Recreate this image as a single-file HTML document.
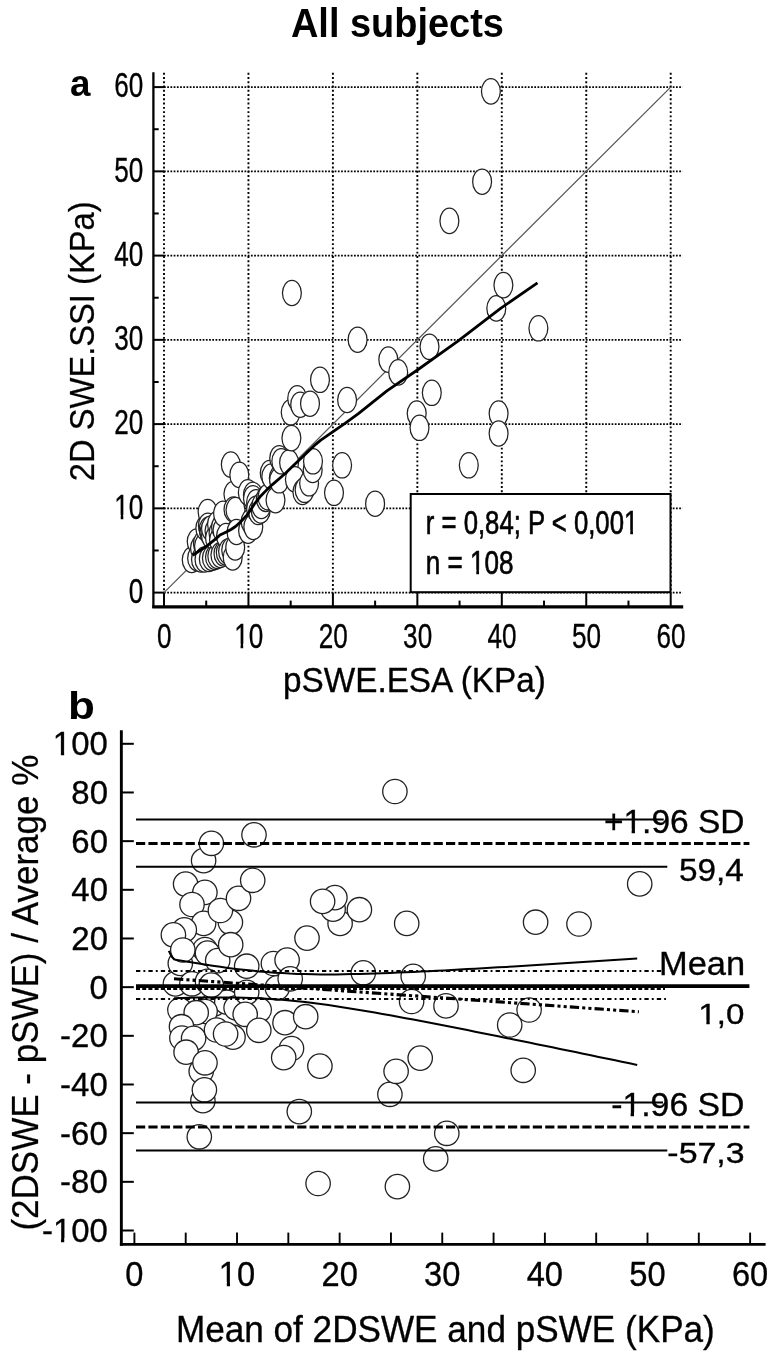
<!DOCTYPE html>
<html><head><meta charset="utf-8"><style>
html,body{margin:0;padding:0;background:#fff;}
svg{display:block;}
</style></head><body>
<svg width="774" height="1358" viewBox="0 0 774 1358">
<rect width="774" height="1358" fill="#fff"/>
<line x1="164.00" y1="592.60" x2="682.5" y2="592.60" stroke="#000" stroke-width="1.9" stroke-dasharray="1.75 1.47"/>
<line x1="164.00" y1="508.35" x2="682.5" y2="508.35" stroke="#000" stroke-width="1.9" stroke-dasharray="1.75 1.47"/>
<line x1="164.00" y1="424.10" x2="682.5" y2="424.10" stroke="#000" stroke-width="1.9" stroke-dasharray="1.75 1.47"/>
<line x1="164.00" y1="339.85" x2="682.5" y2="339.85" stroke="#000" stroke-width="1.9" stroke-dasharray="1.75 1.47"/>
<line x1="164.00" y1="255.60" x2="682.5" y2="255.60" stroke="#000" stroke-width="1.9" stroke-dasharray="1.75 1.47"/>
<line x1="164.00" y1="171.35" x2="682.5" y2="171.35" stroke="#000" stroke-width="1.9" stroke-dasharray="1.75 1.47"/>
<line x1="164.00" y1="87.10" x2="682.5" y2="87.10" stroke="#000" stroke-width="1.9" stroke-dasharray="1.75 1.47"/>
<line x1="164.00" y1="72.8" x2="164.00" y2="592.60" stroke="#000" stroke-width="1.9" stroke-dasharray="1.9 2.36"/>
<line x1="248.45" y1="72.8" x2="248.45" y2="592.60" stroke="#000" stroke-width="1.9" stroke-dasharray="1.9 2.36"/>
<line x1="332.90" y1="72.8" x2="332.90" y2="592.60" stroke="#000" stroke-width="1.9" stroke-dasharray="1.9 2.36"/>
<line x1="417.35" y1="72.8" x2="417.35" y2="592.60" stroke="#000" stroke-width="1.9" stroke-dasharray="1.9 2.36"/>
<line x1="501.80" y1="72.8" x2="501.80" y2="592.60" stroke="#000" stroke-width="1.9" stroke-dasharray="1.9 2.36"/>
<line x1="586.25" y1="72.8" x2="586.25" y2="592.60" stroke="#000" stroke-width="1.9" stroke-dasharray="1.9 2.36"/>
<line x1="670.70" y1="72.8" x2="670.70" y2="592.60" stroke="#000" stroke-width="1.9" stroke-dasharray="1.9 2.36"/>
<line x1="153.4" y1="72.3" x2="153.4" y2="608.1" stroke="#000" stroke-width="2.3"/>
<line x1="152.3" y1="606.8" x2="683.2" y2="606.8" stroke="#000" stroke-width="3.3"/>
<line x1="153.4" y1="592.60" x2="164.0" y2="592.60" stroke="#000" stroke-width="2"/>
<line x1="164.00" y1="606.8" x2="164.00" y2="592.60" stroke="#000" stroke-width="2"/>
<line x1="153.4" y1="550.48" x2="158.7" y2="550.48" stroke="#000" stroke-width="2"/>
<line x1="206.22" y1="606.8" x2="206.22" y2="600.60" stroke="#000" stroke-width="2"/>
<line x1="153.4" y1="508.35" x2="164.0" y2="508.35" stroke="#000" stroke-width="2"/>
<line x1="248.45" y1="606.8" x2="248.45" y2="592.60" stroke="#000" stroke-width="2"/>
<line x1="153.4" y1="466.23" x2="158.7" y2="466.23" stroke="#000" stroke-width="2"/>
<line x1="290.68" y1="606.8" x2="290.68" y2="600.60" stroke="#000" stroke-width="2"/>
<line x1="153.4" y1="424.10" x2="164.0" y2="424.10" stroke="#000" stroke-width="2"/>
<line x1="332.90" y1="606.8" x2="332.90" y2="592.60" stroke="#000" stroke-width="2"/>
<line x1="153.4" y1="381.98" x2="158.7" y2="381.98" stroke="#000" stroke-width="2"/>
<line x1="375.12" y1="606.8" x2="375.12" y2="600.60" stroke="#000" stroke-width="2"/>
<line x1="153.4" y1="339.85" x2="164.0" y2="339.85" stroke="#000" stroke-width="2"/>
<line x1="417.35" y1="606.8" x2="417.35" y2="592.60" stroke="#000" stroke-width="2"/>
<line x1="153.4" y1="297.73" x2="158.7" y2="297.73" stroke="#000" stroke-width="2"/>
<line x1="459.57" y1="606.8" x2="459.57" y2="600.60" stroke="#000" stroke-width="2"/>
<line x1="153.4" y1="255.60" x2="164.0" y2="255.60" stroke="#000" stroke-width="2"/>
<line x1="501.80" y1="606.8" x2="501.80" y2="592.60" stroke="#000" stroke-width="2"/>
<line x1="153.4" y1="213.47" x2="158.7" y2="213.47" stroke="#000" stroke-width="2"/>
<line x1="544.03" y1="606.8" x2="544.03" y2="600.60" stroke="#000" stroke-width="2"/>
<line x1="153.4" y1="171.35" x2="164.0" y2="171.35" stroke="#000" stroke-width="2"/>
<line x1="586.25" y1="606.8" x2="586.25" y2="592.60" stroke="#000" stroke-width="2"/>
<line x1="153.4" y1="129.22" x2="158.7" y2="129.22" stroke="#000" stroke-width="2"/>
<line x1="628.48" y1="606.8" x2="628.48" y2="600.60" stroke="#000" stroke-width="2"/>
<line x1="153.4" y1="87.10" x2="164.0" y2="87.10" stroke="#000" stroke-width="2"/>
<line x1="670.70" y1="606.8" x2="670.70" y2="592.60" stroke="#000" stroke-width="2"/>
<line x1="164.00" y1="592.60" x2="670.70" y2="87.10" stroke="#555" stroke-width="1.25"/>
<ellipse cx="191.7" cy="559.8" rx="9.45" ry="12.7" fill="#fff" stroke="#222" stroke-width="1.25"/>
<ellipse cx="196.7" cy="541.6" rx="9.45" ry="12.7" fill="#fff" stroke="#222" stroke-width="1.25"/>
<ellipse cx="197.1" cy="558.2" rx="9.45" ry="12.7" fill="#fff" stroke="#222" stroke-width="1.25"/>
<ellipse cx="200.0" cy="548.0" rx="9.45" ry="12.7" fill="#fff" stroke="#222" stroke-width="1.25"/>
<ellipse cx="201.0" cy="559.5" rx="9.45" ry="12.7" fill="#fff" stroke="#222" stroke-width="1.25"/>
<ellipse cx="202.9" cy="543.5" rx="9.45" ry="12.7" fill="#fff" stroke="#222" stroke-width="1.25"/>
<ellipse cx="204.0" cy="546.0" rx="9.45" ry="12.7" fill="#fff" stroke="#222" stroke-width="1.25"/>
<ellipse cx="204.5" cy="559.5" rx="9.45" ry="12.7" fill="#fff" stroke="#222" stroke-width="1.25"/>
<ellipse cx="205.3" cy="528.0" rx="9.45" ry="12.7" fill="#fff" stroke="#222" stroke-width="1.25"/>
<ellipse cx="207.6" cy="512.0" rx="9.45" ry="12.7" fill="#fff" stroke="#222" stroke-width="1.25"/>
<ellipse cx="207.9" cy="525.7" rx="9.45" ry="12.7" fill="#fff" stroke="#222" stroke-width="1.25"/>
<ellipse cx="208.7" cy="529.6" rx="9.45" ry="12.7" fill="#fff" stroke="#222" stroke-width="1.25"/>
<ellipse cx="208.8" cy="558.9" rx="9.45" ry="12.7" fill="#fff" stroke="#222" stroke-width="1.25"/>
<ellipse cx="209.5" cy="532.7" rx="9.45" ry="12.7" fill="#fff" stroke="#222" stroke-width="1.25"/>
<ellipse cx="211.0" cy="535.8" rx="9.45" ry="12.7" fill="#fff" stroke="#222" stroke-width="1.25"/>
<ellipse cx="211.0" cy="528.5" rx="9.45" ry="12.7" fill="#fff" stroke="#222" stroke-width="1.25"/>
<ellipse cx="211.9" cy="558.0" rx="9.45" ry="12.7" fill="#fff" stroke="#222" stroke-width="1.25"/>
<ellipse cx="214.5" cy="531.0" rx="9.45" ry="12.7" fill="#fff" stroke="#222" stroke-width="1.25"/>
<ellipse cx="215.0" cy="557.0" rx="9.45" ry="12.7" fill="#fff" stroke="#222" stroke-width="1.25"/>
<ellipse cx="215.0" cy="538.0" rx="9.45" ry="12.7" fill="#fff" stroke="#222" stroke-width="1.25"/>
<ellipse cx="217.0" cy="524.0" rx="9.45" ry="12.7" fill="#fff" stroke="#222" stroke-width="1.25"/>
<ellipse cx="217.3" cy="556.0" rx="9.45" ry="12.7" fill="#fff" stroke="#222" stroke-width="1.25"/>
<ellipse cx="218.5" cy="533.0" rx="9.45" ry="12.7" fill="#fff" stroke="#222" stroke-width="1.25"/>
<ellipse cx="219.0" cy="540.0" rx="9.45" ry="12.7" fill="#fff" stroke="#222" stroke-width="1.25"/>
<ellipse cx="220.4" cy="555.0" rx="9.45" ry="12.7" fill="#fff" stroke="#222" stroke-width="1.25"/>
<ellipse cx="221.0" cy="527.0" rx="9.45" ry="12.7" fill="#fff" stroke="#222" stroke-width="1.25"/>
<ellipse cx="222.5" cy="530.0" rx="9.45" ry="12.7" fill="#fff" stroke="#222" stroke-width="1.25"/>
<ellipse cx="223.1" cy="513.7" rx="9.45" ry="12.7" fill="#fff" stroke="#222" stroke-width="1.25"/>
<ellipse cx="223.5" cy="553.5" rx="9.45" ry="12.7" fill="#fff" stroke="#222" stroke-width="1.25"/>
<ellipse cx="225.8" cy="552.5" rx="9.45" ry="12.7" fill="#fff" stroke="#222" stroke-width="1.25"/>
<ellipse cx="226.0" cy="536.0" rx="9.45" ry="12.7" fill="#fff" stroke="#222" stroke-width="1.25"/>
<ellipse cx="228.1" cy="551.5" rx="9.45" ry="12.7" fill="#fff" stroke="#222" stroke-width="1.25"/>
<ellipse cx="230.8" cy="464.6" rx="9.45" ry="12.7" fill="#fff" stroke="#222" stroke-width="1.25"/>
<ellipse cx="231.2" cy="550.0" rx="9.45" ry="12.7" fill="#fff" stroke="#222" stroke-width="1.25"/>
<ellipse cx="232.7" cy="557.4" rx="9.45" ry="12.7" fill="#fff" stroke="#222" stroke-width="1.25"/>
<ellipse cx="233.4" cy="494.0" rx="9.45" ry="12.7" fill="#fff" stroke="#222" stroke-width="1.25"/>
<ellipse cx="233.5" cy="509.5" rx="9.45" ry="12.7" fill="#fff" stroke="#222" stroke-width="1.25"/>
<ellipse cx="235.2" cy="547.5" rx="9.45" ry="12.7" fill="#fff" stroke="#222" stroke-width="1.25"/>
<ellipse cx="235.5" cy="510.0" rx="9.45" ry="12.7" fill="#fff" stroke="#222" stroke-width="1.25"/>
<ellipse cx="236.5" cy="532.0" rx="9.45" ry="12.7" fill="#fff" stroke="#222" stroke-width="1.25"/>
<ellipse cx="239.3" cy="474.9" rx="9.45" ry="12.7" fill="#fff" stroke="#222" stroke-width="1.25"/>
<ellipse cx="247.8" cy="492.4" rx="9.45" ry="12.7" fill="#fff" stroke="#222" stroke-width="1.25"/>
<ellipse cx="248.1" cy="530.7" rx="9.45" ry="12.7" fill="#fff" stroke="#222" stroke-width="1.25"/>
<ellipse cx="250.7" cy="521.7" rx="9.45" ry="12.7" fill="#fff" stroke="#222" stroke-width="1.25"/>
<ellipse cx="252.9" cy="494.9" rx="9.45" ry="12.7" fill="#fff" stroke="#222" stroke-width="1.25"/>
<ellipse cx="253.0" cy="498.2" rx="9.45" ry="12.7" fill="#fff" stroke="#222" stroke-width="1.25"/>
<ellipse cx="253.3" cy="526.8" rx="9.45" ry="12.7" fill="#fff" stroke="#222" stroke-width="1.25"/>
<ellipse cx="256.1" cy="502.3" rx="9.45" ry="12.7" fill="#fff" stroke="#222" stroke-width="1.25"/>
<ellipse cx="256.1" cy="508.9" rx="9.45" ry="12.7" fill="#fff" stroke="#222" stroke-width="1.25"/>
<ellipse cx="258.2" cy="512.0" rx="9.45" ry="12.7" fill="#fff" stroke="#222" stroke-width="1.25"/>
<ellipse cx="260.7" cy="510.4" rx="9.45" ry="12.7" fill="#fff" stroke="#222" stroke-width="1.25"/>
<ellipse cx="261.3" cy="505.9" rx="9.45" ry="12.7" fill="#fff" stroke="#222" stroke-width="1.25"/>
<ellipse cx="265.8" cy="498.8" rx="9.45" ry="12.7" fill="#fff" stroke="#222" stroke-width="1.25"/>
<ellipse cx="267.5" cy="497.1" rx="9.45" ry="12.7" fill="#fff" stroke="#222" stroke-width="1.25"/>
<ellipse cx="269.7" cy="473.0" rx="9.45" ry="12.7" fill="#fff" stroke="#222" stroke-width="1.25"/>
<ellipse cx="271.3" cy="476.5" rx="9.45" ry="12.7" fill="#fff" stroke="#222" stroke-width="1.25"/>
<ellipse cx="275.5" cy="500.1" rx="9.45" ry="12.7" fill="#fff" stroke="#222" stroke-width="1.25"/>
<ellipse cx="278.8" cy="478.1" rx="9.45" ry="12.7" fill="#fff" stroke="#222" stroke-width="1.25"/>
<ellipse cx="279.1" cy="480.3" rx="9.45" ry="12.7" fill="#fff" stroke="#222" stroke-width="1.25"/>
<ellipse cx="279.2" cy="458.2" rx="9.45" ry="12.7" fill="#fff" stroke="#222" stroke-width="1.25"/>
<ellipse cx="281.3" cy="461.3" rx="9.45" ry="12.7" fill="#fff" stroke="#222" stroke-width="1.25"/>
<ellipse cx="289.1" cy="462.6" rx="9.45" ry="12.7" fill="#fff" stroke="#222" stroke-width="1.25"/>
<ellipse cx="290.7" cy="412.3" rx="9.45" ry="12.7" fill="#fff" stroke="#222" stroke-width="1.25"/>
<ellipse cx="291.4" cy="438.1" rx="9.45" ry="12.7" fill="#fff" stroke="#222" stroke-width="1.25"/>
<ellipse cx="291.9" cy="293.0" rx="9.45" ry="12.7" fill="#fff" stroke="#222" stroke-width="1.25"/>
<ellipse cx="294.9" cy="479.4" rx="9.45" ry="12.7" fill="#fff" stroke="#222" stroke-width="1.25"/>
<ellipse cx="297.2" cy="398.4" rx="9.45" ry="12.7" fill="#fff" stroke="#222" stroke-width="1.25"/>
<ellipse cx="300.2" cy="404.7" rx="9.45" ry="12.7" fill="#fff" stroke="#222" stroke-width="1.25"/>
<ellipse cx="302.4" cy="492.0" rx="9.45" ry="12.7" fill="#fff" stroke="#222" stroke-width="1.25"/>
<ellipse cx="304.6" cy="489.8" rx="9.45" ry="12.7" fill="#fff" stroke="#222" stroke-width="1.25"/>
<ellipse cx="309.1" cy="483.3" rx="9.45" ry="12.7" fill="#fff" stroke="#222" stroke-width="1.25"/>
<ellipse cx="310.0" cy="403.7" rx="9.45" ry="12.7" fill="#fff" stroke="#222" stroke-width="1.25"/>
<ellipse cx="312.7" cy="470.0" rx="9.45" ry="12.7" fill="#fff" stroke="#222" stroke-width="1.25"/>
<ellipse cx="313.0" cy="461.3" rx="9.45" ry="12.7" fill="#fff" stroke="#222" stroke-width="1.25"/>
<ellipse cx="320.0" cy="379.8" rx="9.45" ry="12.7" fill="#fff" stroke="#222" stroke-width="1.25"/>
<ellipse cx="334.0" cy="492.8" rx="9.45" ry="12.7" fill="#fff" stroke="#222" stroke-width="1.25"/>
<ellipse cx="342.1" cy="465.3" rx="9.45" ry="12.7" fill="#fff" stroke="#222" stroke-width="1.25"/>
<ellipse cx="347.1" cy="400.0" rx="9.45" ry="12.7" fill="#fff" stroke="#222" stroke-width="1.25"/>
<ellipse cx="357.6" cy="339.7" rx="9.45" ry="12.7" fill="#fff" stroke="#222" stroke-width="1.25"/>
<ellipse cx="375.1" cy="503.7" rx="9.45" ry="12.7" fill="#fff" stroke="#222" stroke-width="1.25"/>
<ellipse cx="388.3" cy="359.6" rx="9.45" ry="12.7" fill="#fff" stroke="#222" stroke-width="1.25"/>
<ellipse cx="398.2" cy="372.4" rx="9.45" ry="12.7" fill="#fff" stroke="#222" stroke-width="1.25"/>
<ellipse cx="416.7" cy="413.6" rx="9.45" ry="12.7" fill="#fff" stroke="#222" stroke-width="1.25"/>
<ellipse cx="419.5" cy="427.8" rx="9.45" ry="12.7" fill="#fff" stroke="#222" stroke-width="1.25"/>
<ellipse cx="429.5" cy="346.8" rx="9.45" ry="12.7" fill="#fff" stroke="#222" stroke-width="1.25"/>
<ellipse cx="431.8" cy="392.8" rx="9.45" ry="12.7" fill="#fff" stroke="#222" stroke-width="1.25"/>
<ellipse cx="449.4" cy="220.9" rx="9.45" ry="12.7" fill="#fff" stroke="#222" stroke-width="1.25"/>
<ellipse cx="468.8" cy="465.3" rx="9.45" ry="12.7" fill="#fff" stroke="#222" stroke-width="1.25"/>
<ellipse cx="482.1" cy="181.7" rx="9.45" ry="12.7" fill="#fff" stroke="#222" stroke-width="1.25"/>
<ellipse cx="490.9" cy="91.3" rx="9.45" ry="12.7" fill="#fff" stroke="#222" stroke-width="1.25"/>
<ellipse cx="496.3" cy="308.4" rx="9.45" ry="12.7" fill="#fff" stroke="#222" stroke-width="1.25"/>
<ellipse cx="498.6" cy="413.6" rx="9.45" ry="12.7" fill="#fff" stroke="#222" stroke-width="1.25"/>
<ellipse cx="498.6" cy="433.5" rx="9.45" ry="12.7" fill="#fff" stroke="#222" stroke-width="1.25"/>
<ellipse cx="503.4" cy="285.1" rx="9.45" ry="12.7" fill="#fff" stroke="#222" stroke-width="1.25"/>
<ellipse cx="538.4" cy="328.3" rx="9.45" ry="12.7" fill="#fff" stroke="#222" stroke-width="1.25"/>
<polyline points="192.6,555.2 205.7,546.8 216.0,538.6 220.0,535.0 226.3,532.0 231.0,529.5 235.5,526.5 241.0,521.5 247.1,514.9 251.0,509.2 254.9,503.3 260.0,496.8 266.5,490.1 272.4,484.6 285.2,473.5 295.0,464.1 307.9,451.8 314.4,445.4 320.8,440.2 327.3,435.7 333.8,431.1 345.0,423.4 358.4,413.6 386.9,390.9 418.1,369.5 457.9,341.1 500.6,308.4 537.5,282.8" fill="none" stroke="#000" stroke-width="2.8" stroke-linejoin="round"/>
<rect x="410.7" y="494.0" width="259.8" height="98.2" fill="#fff" stroke="#000" stroke-width="2"/>
<line x1="121.35" y1="730.3" x2="121.35" y2="1245.8" stroke="#000" stroke-width="2.9"/>
<line x1="119.9" y1="1244.4" x2="765.6" y2="1244.4" stroke="#000" stroke-width="2.9"/>
<line x1="121.1" y1="743.80" x2="133.8" y2="743.80" stroke="#000" stroke-width="2"/>
<line x1="121.1" y1="792.47" x2="133.8" y2="792.47" stroke="#000" stroke-width="2"/>
<line x1="121.1" y1="841.14" x2="133.8" y2="841.14" stroke="#000" stroke-width="2"/>
<line x1="121.1" y1="889.81" x2="133.8" y2="889.81" stroke="#000" stroke-width="2"/>
<line x1="121.1" y1="938.48" x2="133.8" y2="938.48" stroke="#000" stroke-width="2"/>
<line x1="121.1" y1="987.15" x2="133.8" y2="987.15" stroke="#000" stroke-width="2"/>
<line x1="121.1" y1="1035.82" x2="133.8" y2="1035.82" stroke="#000" stroke-width="2"/>
<line x1="121.1" y1="1084.49" x2="133.8" y2="1084.49" stroke="#000" stroke-width="2"/>
<line x1="121.1" y1="1133.16" x2="133.8" y2="1133.16" stroke="#000" stroke-width="2"/>
<line x1="121.1" y1="1181.83" x2="133.8" y2="1181.83" stroke="#000" stroke-width="2"/>
<line x1="121.1" y1="1230.50" x2="133.8" y2="1230.50" stroke="#000" stroke-width="2"/>
<line x1="134.40" y1="1244.2" x2="134.40" y2="1232.6" stroke="#000" stroke-width="1.9"/>
<line x1="185.71" y1="1244.2" x2="185.71" y2="1232.6" stroke="#000" stroke-width="1.9"/>
<line x1="237.02" y1="1244.2" x2="237.02" y2="1232.6" stroke="#000" stroke-width="1.9"/>
<line x1="288.33" y1="1244.2" x2="288.33" y2="1232.6" stroke="#000" stroke-width="1.9"/>
<line x1="339.64" y1="1244.2" x2="339.64" y2="1232.6" stroke="#000" stroke-width="1.9"/>
<line x1="390.95" y1="1244.2" x2="390.95" y2="1232.6" stroke="#000" stroke-width="1.9"/>
<line x1="442.26" y1="1244.2" x2="442.26" y2="1232.6" stroke="#000" stroke-width="1.9"/>
<line x1="493.57" y1="1244.2" x2="493.57" y2="1232.6" stroke="#000" stroke-width="1.9"/>
<line x1="544.88" y1="1244.2" x2="544.88" y2="1232.6" stroke="#000" stroke-width="1.9"/>
<line x1="596.19" y1="1244.2" x2="596.19" y2="1232.6" stroke="#000" stroke-width="1.9"/>
<line x1="647.50" y1="1244.2" x2="647.50" y2="1232.6" stroke="#000" stroke-width="1.9"/>
<line x1="698.81" y1="1244.2" x2="698.81" y2="1232.6" stroke="#000" stroke-width="1.9"/>
<line x1="750.12" y1="1244.2" x2="750.12" y2="1232.6" stroke="#000" stroke-width="1.9"/>
<circle cx="213.7" cy="1004.2" r="12.2" fill="#fff" stroke="#222" stroke-width="1.3"/>
<circle cx="226.8" cy="1002.2" r="12.2" fill="#fff" stroke="#222" stroke-width="1.3"/>
<circle cx="179.9" cy="1010.0" r="12.2" fill="#fff" stroke="#222" stroke-width="1.3"/>
<circle cx="205.1" cy="1011.5" r="12.2" fill="#fff" stroke="#222" stroke-width="1.3"/>
<circle cx="196.2" cy="1012.7" r="12.2" fill="#fff" stroke="#222" stroke-width="1.3"/>
<circle cx="181.5" cy="1026.7" r="12.2" fill="#fff" stroke="#222" stroke-width="1.3"/>
<circle cx="175.4" cy="983.9" r="12.2" fill="#fff" stroke="#222" stroke-width="1.3"/>
<circle cx="181.9" cy="1038.0" r="12.2" fill="#fff" stroke="#222" stroke-width="1.3"/>
<circle cx="193.6" cy="1038.3" r="12.2" fill="#fff" stroke="#222" stroke-width="1.3"/>
<circle cx="186.1" cy="1052.2" r="12.2" fill="#fff" stroke="#222" stroke-width="1.3"/>
<circle cx="201.2" cy="1071.3" r="12.2" fill="#fff" stroke="#222" stroke-width="1.3"/>
<circle cx="185.6" cy="884.1" r="12.2" fill="#fff" stroke="#222" stroke-width="1.3"/>
<circle cx="180.3" cy="963.4" r="12.2" fill="#fff" stroke="#222" stroke-width="1.3"/>
<circle cx="204.9" cy="892.4" r="12.2" fill="#fff" stroke="#222" stroke-width="1.3"/>
<circle cx="192.0" cy="904.5" r="12.2" fill="#fff" stroke="#222" stroke-width="1.3"/>
<circle cx="203.6" cy="923.4" r="12.2" fill="#fff" stroke="#222" stroke-width="1.3"/>
<circle cx="230.4" cy="922.3" r="12.2" fill="#fff" stroke="#222" stroke-width="1.3"/>
<circle cx="220.4" cy="910.5" r="12.2" fill="#fff" stroke="#222" stroke-width="1.3"/>
<circle cx="238.5" cy="898.3" r="12.2" fill="#fff" stroke="#222" stroke-width="1.3"/>
<circle cx="184.3" cy="929.9" r="12.2" fill="#fff" stroke="#222" stroke-width="1.3"/>
<circle cx="173.4" cy="934.9" r="12.2" fill="#fff" stroke="#222" stroke-width="1.3"/>
<circle cx="205.0" cy="949.5" r="12.2" fill="#fff" stroke="#222" stroke-width="1.3"/>
<circle cx="182.8" cy="950.0" r="12.2" fill="#fff" stroke="#222" stroke-width="1.3"/>
<circle cx="207.5" cy="953.1" r="12.2" fill="#fff" stroke="#222" stroke-width="1.3"/>
<circle cx="191.9" cy="983.8" r="12.2" fill="#fff" stroke="#222" stroke-width="1.3"/>
<circle cx="217.7" cy="960.6" r="12.2" fill="#fff" stroke="#222" stroke-width="1.3"/>
<circle cx="230.7" cy="944.7" r="12.2" fill="#fff" stroke="#222" stroke-width="1.3"/>
<circle cx="199.3" cy="1136.8" r="12.2" fill="#fff" stroke="#222" stroke-width="1.3"/>
<circle cx="205.0" cy="1062.8" r="12.2" fill="#fff" stroke="#222" stroke-width="1.3"/>
<circle cx="202.9" cy="1100.7" r="12.2" fill="#fff" stroke="#222" stroke-width="1.3"/>
<circle cx="203.6" cy="860.6" r="12.2" fill="#fff" stroke="#222" stroke-width="1.3"/>
<circle cx="204.4" cy="1089.8" r="12.2" fill="#fff" stroke="#222" stroke-width="1.3"/>
<circle cx="207.5" cy="981.3" r="12.2" fill="#fff" stroke="#222" stroke-width="1.3"/>
<circle cx="211.3" cy="985.1" r="12.2" fill="#fff" stroke="#222" stroke-width="1.3"/>
<circle cx="211.4" cy="843.3" r="12.2" fill="#fff" stroke="#222" stroke-width="1.3"/>
<circle cx="233.0" cy="1037.2" r="12.2" fill="#fff" stroke="#222" stroke-width="1.3"/>
<circle cx="216.5" cy="1030.0" r="12.2" fill="#fff" stroke="#222" stroke-width="1.3"/>
<circle cx="225.6" cy="1034.0" r="12.2" fill="#fff" stroke="#222" stroke-width="1.3"/>
<circle cx="236.1" cy="1007.8" r="12.2" fill="#fff" stroke="#222" stroke-width="1.3"/>
<circle cx="259.2" cy="1009.8" r="12.2" fill="#fff" stroke="#222" stroke-width="1.3"/>
<circle cx="246.7" cy="966.2" r="12.2" fill="#fff" stroke="#222" stroke-width="1.3"/>
<circle cx="246.7" cy="992.3" r="12.2" fill="#fff" stroke="#222" stroke-width="1.3"/>
<circle cx="245.2" cy="1014.3" r="12.2" fill="#fff" stroke="#222" stroke-width="1.3"/>
<circle cx="252.7" cy="880.3" r="12.2" fill="#fff" stroke="#222" stroke-width="1.3"/>
<circle cx="254.0" cy="834.8" r="12.2" fill="#fff" stroke="#222" stroke-width="1.3"/>
<circle cx="258.8" cy="1030.3" r="12.2" fill="#fff" stroke="#222" stroke-width="1.3"/>
<circle cx="273.4" cy="963.5" r="12.2" fill="#fff" stroke="#222" stroke-width="1.3"/>
<circle cx="277.3" cy="987.8" r="12.2" fill="#fff" stroke="#222" stroke-width="1.3"/>
<circle cx="285.0" cy="1022.7" r="12.2" fill="#fff" stroke="#222" stroke-width="1.3"/>
<circle cx="287.1" cy="960.1" r="12.2" fill="#fff" stroke="#222" stroke-width="1.3"/>
<circle cx="290.2" cy="978.8" r="12.2" fill="#fff" stroke="#222" stroke-width="1.3"/>
<circle cx="291.5" cy="1048.5" r="12.2" fill="#fff" stroke="#222" stroke-width="1.3"/>
<circle cx="299.3" cy="1111.6" r="12.2" fill="#fff" stroke="#222" stroke-width="1.3"/>
<circle cx="283.7" cy="1057.6" r="12.2" fill="#fff" stroke="#222" stroke-width="1.3"/>
<circle cx="305.7" cy="1016.7" r="12.2" fill="#fff" stroke="#222" stroke-width="1.3"/>
<circle cx="307.0" cy="938.1" r="12.2" fill="#fff" stroke="#222" stroke-width="1.3"/>
<circle cx="318.1" cy="1183.5" r="12.2" fill="#fff" stroke="#222" stroke-width="1.3"/>
<circle cx="319.9" cy="1066.1" r="12.2" fill="#fff" stroke="#222" stroke-width="1.3"/>
<circle cx="340.1" cy="923.4" r="12.2" fill="#fff" stroke="#222" stroke-width="1.3"/>
<circle cx="333.1" cy="909.2" r="12.2" fill="#fff" stroke="#222" stroke-width="1.3"/>
<circle cx="334.9" cy="897.6" r="12.2" fill="#fff" stroke="#222" stroke-width="1.3"/>
<circle cx="322.6" cy="901.4" r="12.2" fill="#fff" stroke="#222" stroke-width="1.3"/>
<circle cx="359.4" cy="909.7" r="12.2" fill="#fff" stroke="#222" stroke-width="1.3"/>
<circle cx="363.3" cy="972.8" r="12.2" fill="#fff" stroke="#222" stroke-width="1.3"/>
<circle cx="389.9" cy="1094.3" r="12.2" fill="#fff" stroke="#222" stroke-width="1.3"/>
<circle cx="394.9" cy="791.5" r="12.2" fill="#fff" stroke="#222" stroke-width="1.3"/>
<circle cx="396.1" cy="1071.3" r="12.2" fill="#fff" stroke="#222" stroke-width="1.3"/>
<circle cx="397.4" cy="1186.6" r="12.2" fill="#fff" stroke="#222" stroke-width="1.3"/>
<circle cx="406.7" cy="923.4" r="12.2" fill="#fff" stroke="#222" stroke-width="1.3"/>
<circle cx="411.6" cy="1001.5" r="12.2" fill="#fff" stroke="#222" stroke-width="1.3"/>
<circle cx="413.2" cy="976.3" r="12.2" fill="#fff" stroke="#222" stroke-width="1.3"/>
<circle cx="420.2" cy="1058.1" r="12.2" fill="#fff" stroke="#222" stroke-width="1.3"/>
<circle cx="435.7" cy="1158.9" r="12.2" fill="#fff" stroke="#222" stroke-width="1.3"/>
<circle cx="446.0" cy="1005.9" r="12.2" fill="#fff" stroke="#222" stroke-width="1.3"/>
<circle cx="446.8" cy="1133.3" r="12.2" fill="#fff" stroke="#222" stroke-width="1.3"/>
<circle cx="509.7" cy="1025.0" r="12.2" fill="#fff" stroke="#222" stroke-width="1.3"/>
<circle cx="523.2" cy="1070.3" r="12.2" fill="#fff" stroke="#222" stroke-width="1.3"/>
<circle cx="529.1" cy="1010.0" r="12.2" fill="#fff" stroke="#222" stroke-width="1.3"/>
<circle cx="535.6" cy="922.2" r="12.2" fill="#fff" stroke="#222" stroke-width="1.3"/>
<circle cx="579.0" cy="924.0" r="12.2" fill="#fff" stroke="#222" stroke-width="1.3"/>
<circle cx="639.7" cy="883.9" r="12.2" fill="#fff" stroke="#222" stroke-width="1.3"/>
<line x1="136.0" y1="819.5" x2="663.7" y2="819.5" stroke="#000" stroke-width="2"/>
<line x1="136.0" y1="843.6" x2="749.4" y2="843.6" stroke="#000" stroke-width="3" stroke-dasharray="9.2 3.2"/>
<line x1="136.0" y1="866.8" x2="667.3" y2="866.8" stroke="#000" stroke-width="2"/>
<line x1="136.0" y1="971.0" x2="662.4" y2="971.0" stroke="#000" stroke-width="2.0" stroke-dasharray="4.3 3.1 1.9 3.1"/>
<line x1="136.0" y1="986.1" x2="749.4" y2="986.1" stroke="#000" stroke-width="3.8"/>
<line x1="136.0" y1="989.0" x2="665.0" y2="989.0" stroke="#000" stroke-width="2.0" stroke-dasharray="4 2.2"/>
<line x1="136.0" y1="999.0" x2="666.0" y2="999.0" stroke="#000" stroke-width="2.0" stroke-dasharray="4.3 3.1 1.9 3.1"/>
<line x1="136.0" y1="1102.4" x2="663.0" y2="1102.4" stroke="#000" stroke-width="2"/>
<line x1="136.0" y1="1127.0" x2="749.4" y2="1127.0" stroke="#000" stroke-width="3" stroke-dasharray="9.2 3.2"/>
<line x1="136.0" y1="1150.4" x2="667.3" y2="1150.4" stroke="#000" stroke-width="2"/>
<polyline points="168.8,950.9 171.5,956.5 174.0,959.4 181.7,960.7 189.4,962.0 197.2,963.3 204.9,964.5 212.6,965.7 220.3,966.8 228.0,967.9 235.8,968.9 243.5,969.8 251.2,970.6 258.9,971.4 266.6,972.1 274.4,972.7 282.1,973.1 289.8,973.6 297.5,973.9 305.2,974.1 313.0,974.3 320.7,974.4 328.4,974.4 336.1,974.4 343.8,974.3 351.6,974.1 359.3,974.0 367.0,973.8 374.7,973.5 382.4,973.3 390.2,973.0 397.9,972.6 405.6,972.3 413.3,972.0 421.0,971.6 428.8,971.2 436.5,970.8 444.2,970.4 451.9,970.0 459.6,969.6 467.4,969.1 475.1,968.7 482.8,968.2 490.5,967.8 498.2,967.3 506.0,966.9 513.7,966.4 521.4,965.9 529.1,965.4 536.8,965.0 544.6,964.5 552.3,964.0 560.0,963.5 567.7,963.0 575.4,962.5 583.2,962.0 590.9,961.5 598.6,961.0 606.3,960.5 614.0,960.0 621.8,959.5 629.5,959.0 637.2,958.5" fill="none" stroke="#000" stroke-width="2"/>
<polyline points="174.0,998.2 181.7,998.0 189.4,997.8 197.2,997.6 204.9,997.5 212.6,997.4 220.3,997.4 228.0,997.4 235.8,997.5 243.5,997.7 251.2,997.9 258.9,998.3 266.6,998.7 274.4,999.2 282.1,999.8 289.8,1000.5 297.5,1001.3 305.2,1002.1 313.0,1003.1 320.7,1004.1 328.4,1005.1 336.1,1006.3 343.8,1007.4 351.6,1008.7 359.3,1009.9 367.0,1011.2 374.7,1012.6 382.4,1013.9 390.2,1015.3 397.9,1016.7 405.6,1018.2 413.3,1019.6 421.0,1021.1 428.8,1022.6 436.5,1024.1 444.2,1025.6 451.9,1027.1 459.6,1028.6 467.4,1030.1 475.1,1031.7 482.8,1033.2 490.5,1034.8 498.2,1036.3 506.0,1037.9 513.7,1039.4 521.4,1041.0 529.1,1042.6 536.8,1044.2 544.6,1045.7 552.3,1047.3 560.0,1048.9 567.7,1050.5 575.4,1052.1 583.2,1053.7 590.9,1055.3 598.6,1056.9 606.3,1058.5 614.0,1060.1 621.8,1061.7 629.5,1063.3 637.2,1064.9" fill="none" stroke="#000" stroke-width="2"/>
<line x1="174.0" y1="978.8" x2="638.9" y2="1011.8" stroke="#000" stroke-width="3.1" stroke-dasharray="9.3 3.1 3.1 3.1 3.1 3.1"/>
<g font-family="Liberation Sans" fill="#000" opacity="0.999"><text transform="translate(290.96,37.20) scale(0.9466,1)" font-size="40.08" font-weight="bold">All subjects</text>
<text transform="translate(70.10,95.60) scale(0.9836,1)" font-size="37.41" font-weight="bold">a</text>
<text transform="translate(128.72,602.90) scale(0.7550,1)" font-size="34.60" stroke="#000" stroke-width="0.35">0</text>
<g transform="translate(114.35,518.65) scale(0.7550,1)"><text font-size="34.60" stroke="#000" stroke-width="0.35">10</text><rect x="0.91" y="-3.81" width="7.51" height="6.11" fill="#fff" stroke="none"/><rect x="11.86" y="-3.81" width="6.96" height="6.11" fill="#fff" stroke="none"/></g>
<text transform="translate(114.35,434.40) scale(0.7550,1)" font-size="34.60" stroke="#000" stroke-width="0.35">20</text>
<text transform="translate(114.35,350.15) scale(0.7550,1)" font-size="34.60" stroke="#000" stroke-width="0.35">30</text>
<text transform="translate(114.35,265.90) scale(0.7550,1)" font-size="34.60" stroke="#000" stroke-width="0.35">40</text>
<text transform="translate(114.35,181.65) scale(0.7550,1)" font-size="34.60" stroke="#000" stroke-width="0.35">50</text>
<text transform="translate(114.35,97.40) scale(0.7550,1)" font-size="34.60" stroke="#000" stroke-width="0.35">60</text>
<text transform="translate(157.03,647.60) scale(0.7550,1)" font-size="34.60" stroke="#000" stroke-width="0.35">0</text>
<g transform="translate(234.22,647.60) scale(0.7550,1)"><text font-size="34.60" stroke="#000" stroke-width="0.35">10</text><rect x="0.91" y="-3.81" width="7.51" height="6.11" fill="#fff" stroke="none"/><rect x="11.86" y="-3.81" width="6.96" height="6.11" fill="#fff" stroke="none"/></g>
<text transform="translate(318.67,647.60) scale(0.7550,1)" font-size="34.60" stroke="#000" stroke-width="0.35">20</text>
<text transform="translate(403.12,647.60) scale(0.7550,1)" font-size="34.60" stroke="#000" stroke-width="0.35">30</text>
<text transform="translate(487.57,647.60) scale(0.7550,1)" font-size="34.60" stroke="#000" stroke-width="0.35">40</text>
<text transform="translate(572.02,647.60) scale(0.7550,1)" font-size="34.60" stroke="#000" stroke-width="0.35">50</text>
<text transform="translate(656.47,647.60) scale(0.7550,1)" font-size="34.60" stroke="#000" stroke-width="0.35">60</text>
<g transform="translate(425.80,534.00) scale(0.7596,1)"><text font-size="33.86" stroke="#000" stroke-width="0.7">r = 0,84; P &lt; 0,001</text><rect x="261.75" y="-3.72" width="7.41" height="6.17" fill="#fff" stroke="none"/><rect x="272.71" y="-3.72" width="6.87" height="6.17" fill="#fff" stroke="none"/></g>
<g transform="translate(425.77,573.50) scale(0.7674,1)"><text font-size="34.00" stroke="#000" stroke-width="0.7">n = 108</text><rect x="58.40" y="-3.74" width="7.44" height="6.19" fill="#fff" stroke="none"/><rect x="69.40" y="-3.74" width="6.90" height="6.19" fill="#fff" stroke="none"/></g>
<text transform="translate(282.97,692.00) scale(0.9585,1)" font-size="34.78" stroke="#000" stroke-width="0.35">pSWE.ESA (KPa)</text>
<text transform="translate(94.00,481.13) rotate(-90) scale(0.9083,1)" font-size="36.00" stroke="#000" stroke-width="0.25">2D SWE.SSI (KPa)</text>
<text transform="translate(67.92,718.60) scale(1.1350,1)" font-size="38.77" font-weight="bold">b</text>
<g transform="translate(52.84,755.30) scale(0.9700,1)"><text font-size="34.00" stroke="#000" stroke-width="0.35">100</text><rect x="0.89" y="-3.74" width="7.38" height="6.04" fill="#fff" stroke="none"/><rect x="11.65" y="-3.74" width="6.84" height="6.04" fill="#fff" stroke="none"/></g>
<text transform="translate(71.31,803.97) scale(0.9700,1)" font-size="34.00" stroke="#000" stroke-width="0.35">80</text>
<text transform="translate(71.31,852.64) scale(0.9700,1)" font-size="34.00" stroke="#000" stroke-width="0.35">60</text>
<text transform="translate(71.31,901.31) scale(0.9700,1)" font-size="34.00" stroke="#000" stroke-width="0.35">40</text>
<text transform="translate(71.31,949.98) scale(0.9700,1)" font-size="34.00" stroke="#000" stroke-width="0.35">20</text>
<text transform="translate(89.45,998.65) scale(0.9700,1)" font-size="34.00" stroke="#000" stroke-width="0.35">0</text>
<text transform="translate(60.10,1047.32) scale(0.9700,1)" font-size="34.00" stroke="#000" stroke-width="0.35">-20</text>
<text transform="translate(60.10,1095.99) scale(0.9700,1)" font-size="34.00" stroke="#000" stroke-width="0.35">-40</text>
<text transform="translate(60.10,1144.66) scale(0.9700,1)" font-size="34.00" stroke="#000" stroke-width="0.35">-60</text>
<text transform="translate(60.10,1193.33) scale(0.9700,1)" font-size="34.00" stroke="#000" stroke-width="0.35">-80</text>
<g transform="translate(41.96,1242.00) scale(0.9700,1)"><text font-size="34.00" stroke="#000" stroke-width="0.35">-100</text><rect x="12.21" y="-3.74" width="7.38" height="6.04" fill="#fff" stroke="none"/><rect x="22.97" y="-3.74" width="6.84" height="6.04" fill="#fff" stroke="none"/></g>
<text transform="translate(125.31,1285.70) scale(0.9500,1)" font-size="34.40" stroke="#000" stroke-width="0.35">0</text>
<g transform="translate(218.84,1285.70) scale(0.9500,1)"><text font-size="34.40" stroke="#000" stroke-width="0.35">10</text><rect x="0.90" y="-3.78" width="7.47" height="6.08" fill="#fff" stroke="none"/><rect x="11.79" y="-3.78" width="6.92" height="6.08" fill="#fff" stroke="none"/></g>
<text transform="translate(321.46,1285.70) scale(0.9500,1)" font-size="34.40" stroke="#000" stroke-width="0.35">20</text>
<text transform="translate(424.08,1285.70) scale(0.9500,1)" font-size="34.40" stroke="#000" stroke-width="0.35">30</text>
<text transform="translate(526.70,1285.70) scale(0.9500,1)" font-size="34.40" stroke="#000" stroke-width="0.35">40</text>
<text transform="translate(629.32,1285.70) scale(0.9500,1)" font-size="34.40" stroke="#000" stroke-width="0.35">50</text>
<text transform="translate(731.94,1285.70) scale(0.9500,1)" font-size="34.40" stroke="#000" stroke-width="0.35">60</text>
<g transform="translate(603.92,832.90) scale(0.9982,1)"><text font-size="33.57" stroke="#000" stroke-width="0.35">+1.96 SD</text><rect x="20.48" y="-3.69" width="7.29" height="5.99" fill="#fff" stroke="none"/><rect x="31.11" y="-3.69" width="6.75" height="5.99" fill="#fff" stroke="none"/></g>
<text transform="translate(678.97,881.20) scale(1.0516,1)" font-size="31.71" stroke="#000" stroke-width="0.35">59,4</text>
<text transform="translate(658.94,975.30) scale(1.0115,1)" font-size="34.06" stroke="#000" stroke-width="0.35">Mean</text>
<g transform="translate(698.35,1023.70) scale(1.1183,1)"><text font-size="29.57" stroke="#000" stroke-width="0.35">1,0</text><rect x="0.74" y="-3.25" width="6.43" height="5.55" fill="#fff" stroke="none"/><rect x="10.17" y="-3.25" width="5.95" height="5.55" fill="#fff" stroke="none"/></g>
<g transform="translate(611.15,1116.00) scale(1.0425,1)"><text font-size="32.43" stroke="#000" stroke-width="0.35">-1.96 SD</text><rect x="11.63" y="-3.57" width="7.04" height="5.87" fill="#fff" stroke="none"/><rect x="21.92" y="-3.57" width="6.52" height="5.87" fill="#fff" stroke="none"/></g>
<text transform="translate(667.34,1163.00) scale(1.1418,1)" font-size="29.71" stroke="#000" stroke-width="0.35">-57,3</text>
<text transform="translate(175.89,1341.80) scale(0.9583,1)" font-size="36.67" stroke="#000" stroke-width="0.35">Mean of 2DSWE and pSWE (KPa)</text>
<text transform="translate(38.00,1230.60) rotate(-90) scale(0.9595,1)" font-size="36.50" stroke="#000" stroke-width="0.25">(2DSWE - pSWE) / Average %</text></g>
</svg>
</body></html>
